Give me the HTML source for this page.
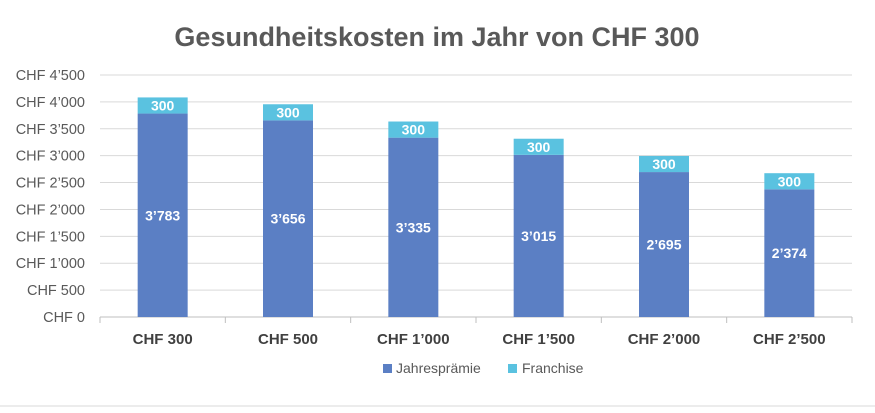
<!DOCTYPE html>
<html><head><meta charset="utf-8">
<style>
body{margin:0;background:#fff;width:875px;height:408px;overflow:hidden;font-family:"Liberation Sans",Arial,sans-serif;}
svg text{font-family:"Liberation Sans",Arial,sans-serif;}
</style></head>
<body>
<svg id="chart" width="875" height="408">
<text x="437" y="46" text-anchor="middle" font-size="27" font-weight="bold" fill="#595959">Gesundheitskosten im Jahr von CHF 300</text>
<g id="grid"></g><g id="bars"></g><g id="xlabels"></g>
<g>
<rect x="383" y="364" width="9" height="9" fill="#5b7fc4"/>
<text x="396" y="373" font-size="14" fill="#595959">Jahresprämie</text>
<rect x="508" y="364" width="9" height="9" fill="#5ac2e0"/>
<text x="522" y="373" font-size="14" fill="#595959">Franchise</text>
</g>
<line x1="0" y1="406" x2="875" y2="406" stroke="#d9d9d9"/>
</svg>
<script>
const categories=["CHF 300","CHF 500","CHF 1’000","CHF 1’500","CHF 2’000","CHF 2’500"];
const praemie=[3783,3656,3335,3015,2695,2374];
const franchise=[300,300,300,300,300,300];
const praemieLabels=["3’783","3’656","3’335","3’015","2’695","2’374"];
const tickValues=[0,500,1000,1500,2000,2500,3000,3500,4000,4500];
const tickLabels=["CHF 0","CHF 500","CHF 1’000","CHF 1’500","CHF 2’000","CHF 2’500","CHF 3’000","CHF 3’500","CHF 4’000","CHF 4’500"];
const NS="http://www.w3.org/2000/svg";
const left=100,right=852,y0=317,yTop=75,maxV=4500;
const y=v=>y0-(v/maxV)*(y0-yTop);
const band=(right-left)/categories.length;
const xc=i=>left+band*(i+0.5);
function mk(tag,attrs,parent,text){const e=document.createElementNS(NS,tag);for(const k in attrs)e.setAttribute(k,attrs[k]);if(text!=null)e.textContent=text;parent.appendChild(e);return e;}
const grid=document.getElementById('grid'),bars=document.getElementById('bars'),xl=document.getElementById('xlabels');
tickValues.forEach((v,i)=>{
  const l=mk('line',{x1:left,x2:right,y1:y(v),y2:y(v),stroke:v===0?'#bfbfbf':'#d9d9d9'},grid);
  
  
  const t=mk('text',{x:85,y:y(v)+5,'text-anchor':'end','font-size':14.5,fill:'#595959'},grid,tickLabels[i]);
  
  
});
for(let i=0;i<=categories.length;i++){
  const tk=mk('line',{x1:left+band*i,x2:left+band*i,y1:y0,y2:y0+6,stroke:'#bfbfbf'},grid);
  
  
}
const bw=50;
categories.forEach((c,i)=>{
  const x=xc(i)-bw/2;
  const r1=mk('rect',{x:x,y:y(praemie[i]),width:bw,height:y0-y(praemie[i]),fill:'#5b7fc4'},bars);
  
  
  const top=praemie[i]+franchise[i];
  const r2=mk('rect',{x:x,y:y(top),width:bw,height:y(praemie[i])-y(top),fill:'#5ac2e0'},bars);
  
  
  const t1=mk('text',{x:xc(i),y:(y(praemie[i])+y0)/2+5,'text-anchor':'middle','font-size':14,'font-weight':'bold',fill:'#fff'},bars,praemieLabels[i]);
  
  
  const t2=mk('text',{x:xc(i),y:(y(praemie[i])+y(top))/2+5,'text-anchor':'middle','font-size':14,'font-weight':'bold',fill:'#fff'},bars,String(franchise[i]));
  
  
  const t3=mk('text',{x:xc(i),y:344,'text-anchor':'middle','font-size':15,'font-weight':'bold',fill:'#404040'},xl,c);
  
  
});
</script>
</body></html>
